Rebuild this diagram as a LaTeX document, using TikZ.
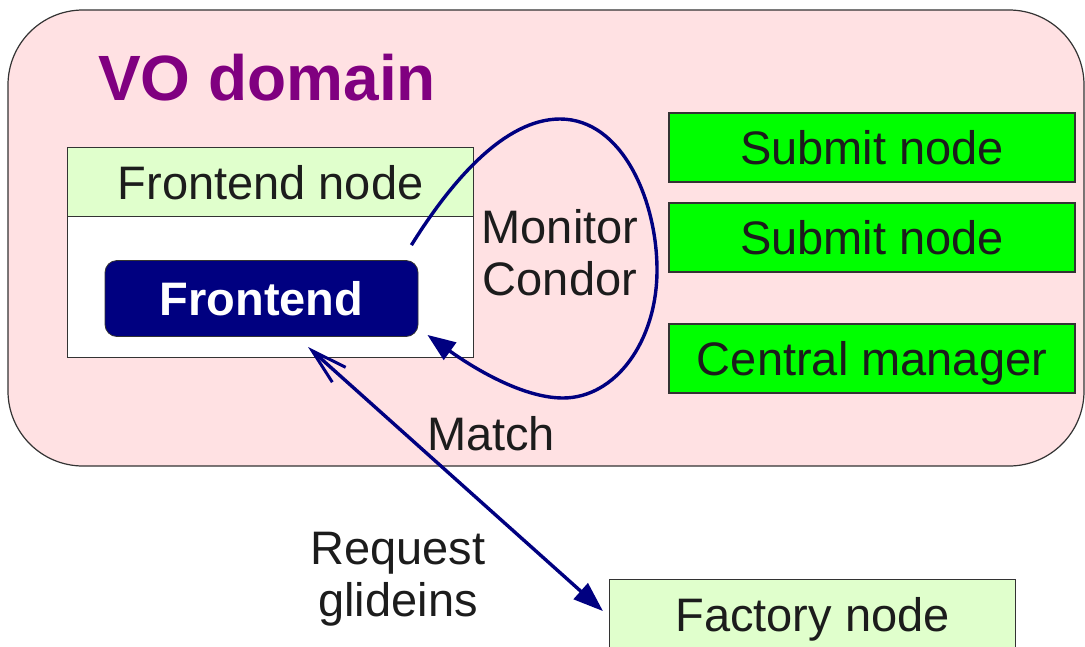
\documentclass[tikz,border=0pt]{standalone}
\usepackage{fontspec}
\setmainfont{Liberation Sans}
\usetikzlibrary{arrows.meta}
\definecolor{vopink}{HTML}{FFE1E3}
\definecolor{lightgreen}{HTML}{E0FFCC}
\definecolor{brightgreen}{HTML}{00FF00}
\definecolor{navyc}{HTML}{000080}
\definecolor{vopurple}{HTML}{800080}
\definecolor{txt}{HTML}{1C1C1C}
\definecolor{edge}{HTML}{333333}
\tikzset{
  big/.style={font=\fontsize{47}{52}\selectfont, text=txt},
  boxnode/.style={draw=edge, line width=1.2pt, minimum width=406pt, minimum height=69pt,
     inner sep=0pt, text height=34pt, text depth=0pt, big},
  greenbox/.style={boxnode, fill=brightgreen},
  paleboc/.style={boxnode, fill=lightgreen},
  conn/.style={draw=navyc, line width=3.4pt},
  lbl/.style={big, inner sep=0pt, align=center},
}
\begin{document}
\begin{tikzpicture}[x=1pt, y=-1pt]
\useasboundingbox (0,0) rectangle (1085,646);
% VO domain
\draw[edge, line width=1.2pt, fill=vopink, rounded corners=75pt] (8,10) rectangle (1084,466);
\node[anchor=base west, inner sep=0pt, font=\fontsize{64}{70}\selectfont\bfseries, text=vopurple] (vo) at (98,100) {VO domain};
% Frontend node
\node[boxnode, fill=white, minimum height=210pt, anchor=north west] (fnbody) at (67,147) {};
\node[paleboc, anchor=north west] (fnhead) at (67,147) {Frontend node};
\node[draw=edge, line width=0.8pt, fill=navyc, rounded corners=12pt, minimum width=313pt, minimum height=76pt,
      inner sep=0pt, text height=33pt, text depth=0pt, text=white,
      font=\fontsize{47}{52}\selectfont\bfseries] (fe) at (261.5,298.5) {Frontend};
% Submit nodes
\node[greenbox] (sub1) at (872,147.5) {Submit node};
\node[greenbox] (sub2) at (872,237.5) {Submit node};
\node[greenbox] (cm) at (872,358.5) {Central manager};
% Factory node
\node[paleboc, anchor=north west] (fac) at (609,579) {Factory node};
% labels
\node[lbl] (mon) at (560,253) {Monitor\\Condor};
\node[lbl, anchor=base] (match) at (491,450) {Match};
\node[lbl] (req) at (398,579) {Request\\glideins};
% connectors
\coordinate (mstart) at ([shift={(-7,-15)}]fe.north east);
\coordinate (mend) at ([shift={(9,-2)}]fe.south east);
\path[conn, -{Triangle[length=28pt,width=21pt]}]
  (mstart) .. controls (452,180) and (505,119) .. (560,119)
  .. controls (622,119) and (657,200) .. (657,270)
  .. controls (657,342) and (615,398) .. (563,398)
  .. controls (522,398) and (472,367) .. (mend);
\coordinate (rq) at (308,347);
\coordinate (fq) at ([xshift=-6pt,yshift=3pt]fac.west);
\path[conn, {Straight Barb[length=36pt,width=20pt,line width=3pt]}-{Triangle[length=30pt,width=21pt]}] (rq) -- (fq);
\end{tikzpicture}
\end{document}
